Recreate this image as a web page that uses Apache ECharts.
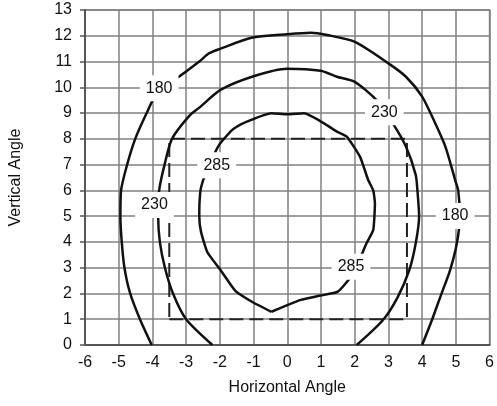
<!DOCTYPE html>
<html>
<head>
<meta charset="utf-8">
<script src="https://cdn.jsdelivr.net/npm/echarts@6/dist/echarts.min.js"></script>
<style>html,body{margin:0;padding:0;background:#fff}#c{width:497px;height:406px}</style>
</head>
<body>
<div id="c"></div>
<script>
// Contour 180
const contour180 = [[-4.02,0],[-4.37,1],[-4.66,2],[-4.83,3],[-4.91,4],[-4.95,5],[-4.93,6],[-4.75,7],[-4.51,8],[-4.17,9],[-3.78,10],[-3.25,10.38],[-2.61,11.0],[-2.32,11.32],[-1.98,11.5],[-1.06,11.92],[0,12.06],[0.7,12.12],[1.18,12.03],[1.99,11.77],[3.0,10.93],[3.52,10.41],[4.0,9.64],[4.39,8.6],[4.69,7.7],[4.98,6.4],[5.07,6.0],[5.12,5.0],[5.03,3.95],[4.83,2.91],[4.54,1.87],[4.3,1.0],[4.0,0]];
// Contour 230
const contour230 = [[-2.22,0],[-3.0,1],[-3.39,2],[-3.63,3],[-3.78,4],[-3.83,5],[-3.8,6],[-3.64,7],[-3.42,8],[-2.9,8.9],[-2.6,9.22],[-1.98,9.9],[-1.0,10.43],[0,10.72],[0.99,10.64],[1.47,10.41],[1.99,10.22],[2.64,9.51],[3.13,8.6],[3.52,7.7],[3.81,6.6],[3.86,6.0],[3.91,5.0],[3.81,3.95],[3.62,2.91],[3.28,1.87],[2.84,0.97],[2.06,0]];
// Contour 285
const contour285 = [[-0.47,1.29],[-1.01,1.65],[-1.54,2.1],[-1.98,2.91],[-2.37,3.6],[-2.56,4.4],[-2.61,5.0],[-2.6,5.6],[-2.56,6.1],[-2.42,6.66],[-2.03,7.75],[-1.64,8.34],[-1.35,8.58],[-0.47,8.99],[0.0,8.95],[0.5,8.99],[1.09,8.6],[1.47,8.28],[1.77,8.08],[2.16,7.3],[2.4,6.4],[2.55,6.0],[2.6,5.5],[2.55,4.46],[2.35,3.95],[1.96,2.78],[1.5,2.07],[0.99,1.92],[0.4,1.75],[0.0,1.55],[-0.47,1.29]];
// Dashed rectangle corners
const rectX = [-3.5, 3.55];
const rectY = [1, 8];
// Contour labels
const labelX = [-3.8, 2.88, -2.09, -3.94, 1.89, 4.98];
const labelY = [9.96, 9.03, 6.98, 5.43, 3.04, 5.01];
const labelText = ['180', '230', '285', '230', '285', '180'];
// Axes
const xMin = -6, xMax = 6, yMin = 0, yMax = 13;
const xTitle = 'Horizontal Angle', yTitle = 'Vertical Angle';

const rectData = [[rectX[0],rectY[0]],[rectX[1],rectY[0]],[rectX[1],rectY[1]],[rectX[0],rectY[1]],[rectX[0],rectY[0]]];
const labelData = labelX.map((x,i)=>({value:[x,labelY[i]], name: labelText[i]}));

const font = 'Liberation Sans, Arial, sans-serif';
const gridColor = '#808080';
const curveStyle = {color:'#111', width:2.5};

const chart = echarts.init(document.getElementById('c'));
chart.setOption({
  animation:false,
  grid:{left:84, right:2, top:10, bottom:61, show:true, borderColor:gridColor, borderWidth:1.5},
  xAxis:{type:'value', min:xMin, max:xMax, interval:1,
    name:xTitle, nameLocation:'middle', nameGap:35,
    nameTextStyle:{fontFamily:font, fontSize:16, color:'#111'},
    axisLine:{show:true, onZero:false, lineStyle:{color:'#555', width:2}},
    axisTick:{show:false},
    axisLabel:{fontFamily:font, fontSize:16, color:'#111', margin:10},
    splitLine:{show:true, lineStyle:{color:gridColor, width:1.5}}},
  yAxis:{type:'value', min:yMin, max:yMax, interval:1,
    name:yTitle, nameLocation:'middle', nameGap:61,
    nameTextStyle:{fontFamily:font, fontSize:16, color:'#111'},
    axisLine:{show:true, onZero:false, lineStyle:{color:'#555', width:2}},
    axisTick:{show:true, length:5, lineStyle:{color:'#555', width:1.5}},
    axisLabel:{fontFamily:font, fontSize:16, color:'#111', margin:13},
    splitLine:{show:true, lineStyle:{color:gridColor, width:1.5}}},
  series:[
    {type:'line', data:rectData, symbol:'none', z:3, lineStyle:{color:'#222', width:2, type:[14,6]}},
    {type:'line', data:contour180, symbol:'none', smooth:0.25, z:4, lineStyle:curveStyle},
    {type:'line', data:contour230, symbol:'none', smooth:0.25, z:4, lineStyle:curveStyle},
    {type:'line', data:contour285, symbol:'none', smooth:0.15, z:4, lineStyle:curveStyle},
    {type:'scatter', data:labelData, symbolSize:1, zlevel:1, z:10,
      itemStyle:{opacity:0},
      emphasis:{disabled:true},
      label:{show:true, position:'inside', formatter:p=>p.name, fontFamily:font, fontSize:16, color:'#111',
        backgroundColor:'#fff', opacity:1, padding:[5,6]}}
  ]
});
</script>
</body>
</html>
